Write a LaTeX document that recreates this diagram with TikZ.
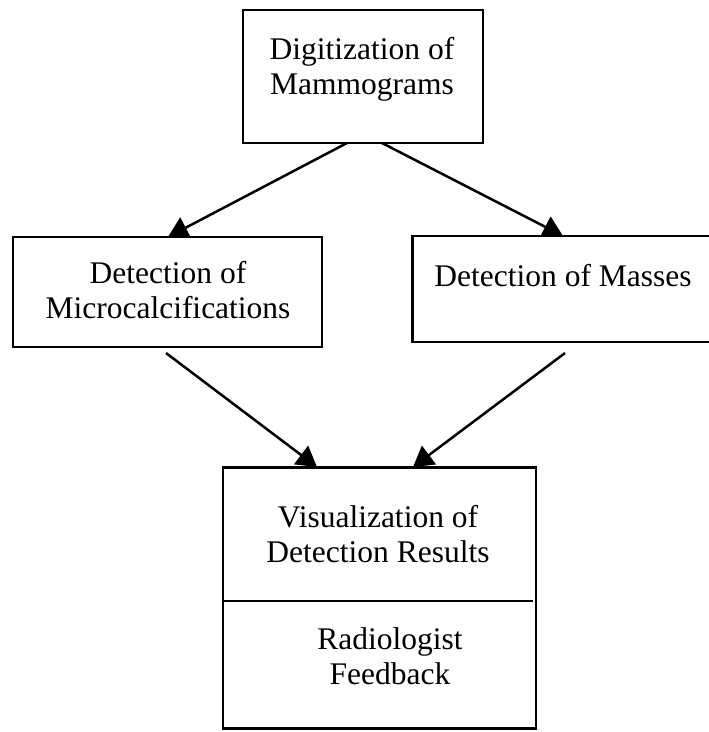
\documentclass[tikz,border=0pt]{standalone}
\usepackage{fontspec}
\setmainfont{Liberation Serif}
\usetikzlibrary{arrows.meta,backgrounds}
\tikzset{
  box/.style={draw=black, line width=2.6pt, fill=white, rectangle, inner sep=0pt},
  lbl/.style={anchor=base, inner sep=0pt, font=\fontsize{31.5}{35}\selectfont},
  conn/.style={line width=2.5pt, -{Triangle[length=20pt,width=23pt]}}
}
\newcommand{\twolines}[2]{\begin{tabular}[t]{@{}c@{}}#1\\#2\end{tabular}}
\begin{document}
\begin{tikzpicture}[x=1pt,y=-1pt]
\useasboundingbox (0,0) rectangle (709,732);
\clip (0,0) rectangle (709,732);
% boxes
\node[box, minimum width=240pt, minimum height=133pt] (top) at (363,76.5) {};
\node[box, minimum width=309pt, minimum height=110pt] (left) at (167.5,292) {};
\node[box, minimum width=305pt, minimum height=106pt] (right) at (565,289) {};
\node[box, minimum width=313pt, minimum height=261pt] (bot) at (379.5,598) {};
\draw[line width=2.4pt] (bot.west |- 0,601) -- (533,601);
% texts
\node[lbl] (ttop) at (362,59.5) {\twolines{Digitization of}{Mammograms}};
\node[lbl] (tleft) at (168,283.5) {\twolines{Detection of}{Microcalcifications}};
\node[lbl] (tright) at (563,286) {Detection of Masses};
\node[lbl] (tvis) at (378,527) {\twolines{Visualization of}{Detection Results}};
\node[lbl] (trad) at (390,649.5) {\twolines{Radiologist}{Feedback}};
% connector end points
\coordinate (s1) at (347,143);
\coordinate (e1) at (168,237);
\coordinate (s2) at (382,143);
\coordinate (e2) at (563,236);
\coordinate (s3) at (166,353);
\coordinate (e3) at (317,467);
\coordinate (s4) at (565,353);
\coordinate (e4) at (413,467);
\begin{scope}[on background layer]
\draw[conn] (s1) -- (e1);
\draw[conn] (s2) -- (e2);
\draw[conn] (s3) -- (e3);
\draw[conn] (s4) -- (e4);
\end{scope}
\end{tikzpicture}
\end{document}
